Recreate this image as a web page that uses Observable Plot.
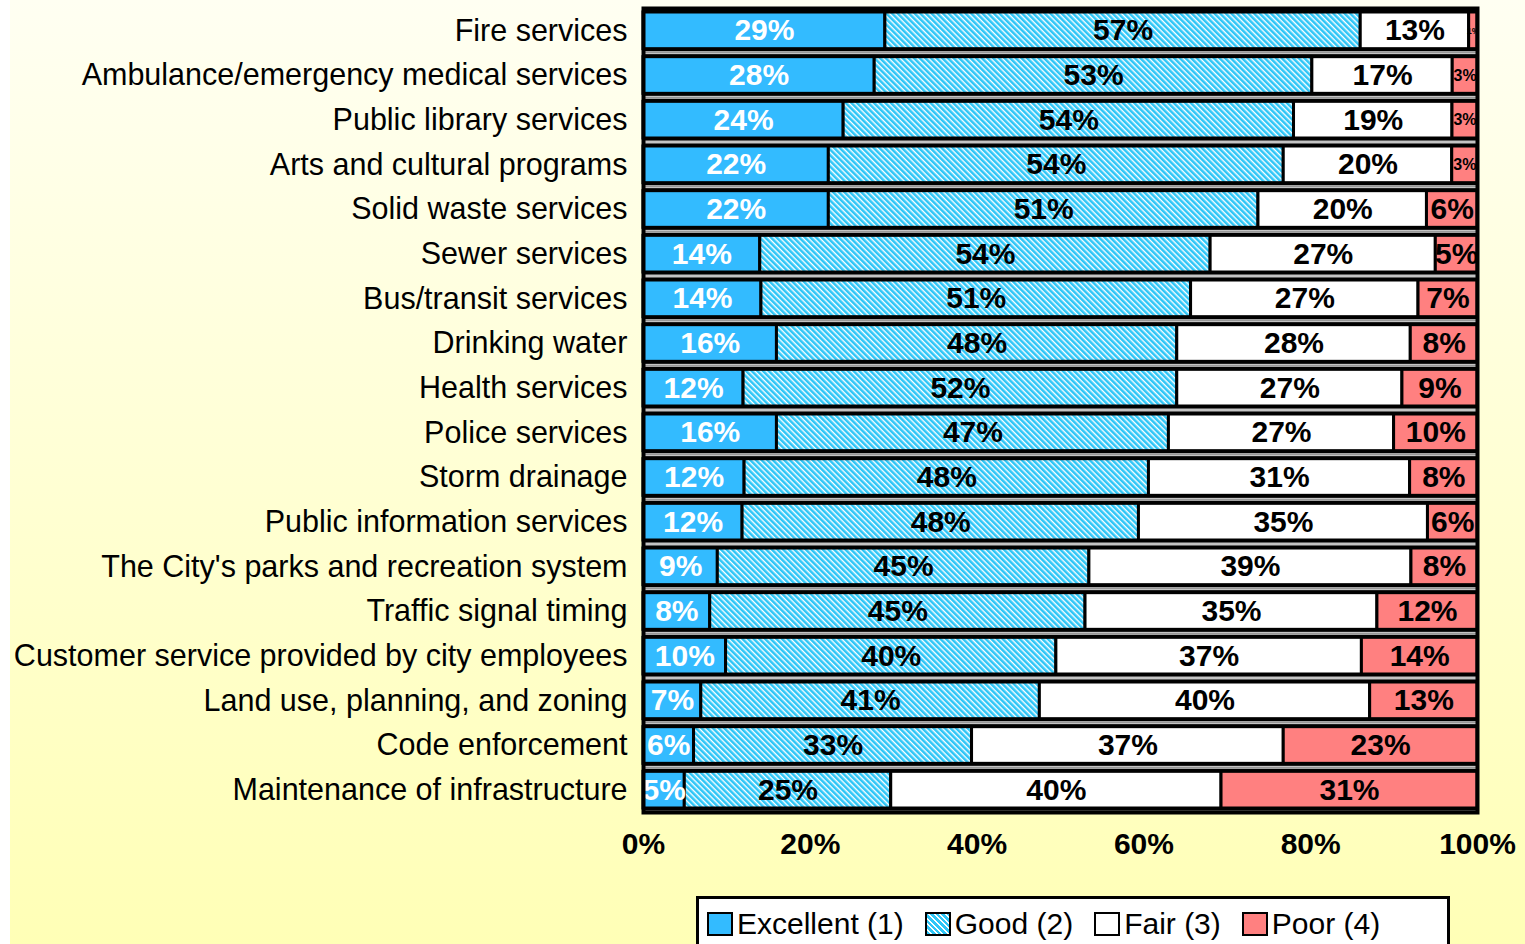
<!DOCTYPE html>
<html><head><meta charset="utf-8">
<script src="https://cdn.jsdelivr.net/npm/d3@7"></script>
<script src="https://cdn.jsdelivr.net/npm/@observablehq/plot@0.6"></script>
<style>
html,body{margin:0;padding:0;background:#fff;width:1525px;height:944px;overflow:hidden;font-family:"Liberation Sans",Arial,sans-serif;}
#bg{position:absolute;left:10px;top:0;width:1515px;height:944px;background:linear-gradient(to bottom,#fffff2,#ffffb6);}
#chart{position:absolute;left:0;top:0;}
#chart svg{overflow:visible}
#legend{position:absolute;left:696px;top:896px;width:748px;height:70px;border:3px solid #000;background:#fff;box-sizing:content-box;}
#legend .row{display:flex;align-items:center;height:50px;padding-left:8px;}
#legend .item{display:flex;align-items:center;font-size:30px;color:#000;margin-right:21px;white-space:nowrap;}
#legend .sw{width:22px;height:20px;border:2px solid #000;margin-right:4px;box-sizing:content-box;}
</style></head>
<body>
<div id="bg"></div>
<div id="chart"></div>
<div id="legend"><div class="row"></div></div>
<script>
const services = [
  "Fire services",
  "Ambulance/emergency medical services",
  "Public library services",
  "Arts and cultural programs",
  "Solid waste services",
  "Sewer services",
  "Bus/transit services",
  "Drinking water",
  "Health services",
  "Police services",
  "Storm drainage",
  "Public information services",
  "The City's parks and recreation system",
  "Traffic signal timing",
  "Customer service provided by city employees",
  "Land use, planning, and zoning",
  "Code enforcement",
  "Maintenance of infrastructure"
];
const excellent = [29,28,24,22,22,14,14,16,12,16,12,12,9,8,10,7,6,5];
const good      = [57,53,54,54,51,54,51,48,52,47,48,48,45,45,40,41,33,25];
const fair      = [13,17,19,20,20,27,27,28,27,27,31,35,39,35,37,40,37,40];
const poor      = [1,3,3,3,6,5,7,8,9,10,8,6,8,12,14,13,23,31];
const ratings = ["Excellent (1)","Good (2)","Fair (3)","Poor (4)"];
const ratingColors = ["#33bbff","url(#hatchGood)","#ffffff","#ff8080"];
const xTicks = [0,20,40,60,80,100];

const series = [excellent, good, fair, poor];
const rows = services.flatMap((s,i) => series.map((arr,j) => ({service:s, rating:ratings[j], value:arr[i]})));

const stackOpts = {offset:"normalize", x:"value", y:"service", z:"rating"};
const label = test => d => test(d) ? d.value + "%" : null;

const chart = Plot.plot({
  width:1525, height:870,
  marginLeft:643, marginRight:48, marginTop:8, marginBottom:58,
  style:{background:"transparent", fontFamily:"'Liberation Sans', Arial, sans-serif", fontSize:"30px", color:"#000"},
  x:{domain:[0,1], label:null},
  y:{domain:services, padding:0, round:false, label:null},
  color:{domain:ratings, range:ratingColors},
  marks:[
    Plot.frame({fill:"#000"}),
    Plot.barX(services, {x1:0, x2:1, y:d=>d, fill:"#c4c4c4"}),
    Plot.barX(services, {x1:0, x2:1, y:d=>d, fill:"#000", insetTop:1.5, insetBottom:1.5}),
    Plot.barX(rows, Plot.stackX({...stackOpts, fill:"rating", stroke:"#000", strokeWidth:3, insetTop:4, insetBottom:4})),
    Plot.text(rows, Plot.stackX({...stackOpts, text:label(d=>d.rating===ratings[0]), fill:"#fff", fontWeight:"bold", fontSize:30, clip:"frame"})),
    Plot.text(rows, Plot.stackX({...stackOpts, text:label(d=>d.rating!==ratings[0] && d.value>=5), fill:"#000", fontWeight:"bold", fontSize:30, clip:"frame"})),
    Plot.text(rows, Plot.stackX({...stackOpts, text:label(d=>d.rating!==ratings[0] && d.value>1 && d.value<5), fill:"#000", fontWeight:"bold", fontSize:16, clip:"frame"})),
    Plot.text(rows, Plot.stackX({...stackOpts, text:label(d=>d.rating!==ratings[0] && d.value<=1), fill:"#000", fontWeight:"bold", fontSize:9, clip:"frame"})),
    Plot.frame({stroke:"#000", strokeWidth:4}),
    Plot.axisX(xTicks.map(t=>t/100), {tickSize:0, tickPadding:20, tickFormat:d=>Math.round(d*100)+"%", fontWeight:"bold", fontSize:30, fill:"#000", label:null}),
    Plot.axisY({tickSize:0, tickPadding:16, fontSize:30.5, fill:"#000", label:null})
  ]
});

// hatch pattern for "Good"
const ns = "http://www.w3.org/2000/svg";
const defs = document.createElementNS(ns, "defs");
defs.innerHTML = `<pattern id="hatchGood" patternUnits="userSpaceOnUse" width="4" height="4" patternTransform="rotate(-45)">
  <rect width="4" height="4" fill="#ffffff"/>
  <rect x="0" y="0" width="2.6" height="4" fill="#2ec6f7"/>
</pattern>`;
chart.insertBefore(defs, chart.firstChild);
document.getElementById("chart").appendChild(chart);

// legend
const legendRow = document.querySelector("#legend .row");
ratings.forEach((r,i) => {
  const item = document.createElement("span");
  item.className = "item";
  const sw = document.createElement("span");
  sw.className = "sw";
  sw.style.background = i === 1
    ? "repeating-linear-gradient(45deg, #2ec6f7 0 2.6px, #ffffff 2.6px 4px)"
    : ratingColors[i];
  item.appendChild(sw);
  item.appendChild(document.createTextNode(r));
  legendRow.appendChild(item);
});
</script>
</body></html>
